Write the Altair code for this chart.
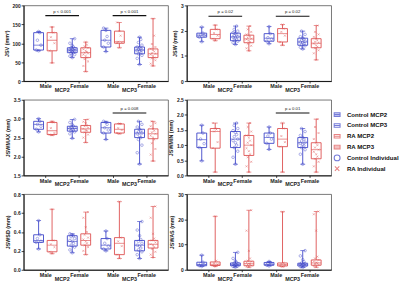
import altair as alt
import pandas as pd

BLUE = "#3d45c9"
RED = "#dd4f4f"
FONT = "Liberation Sans"

CATEGORIES = ["MCP2|Male", "MCP2|Female", "MCP3|Male", "MCP3|Female"]
JOINTS = ["MCP2", "MCP3"]
GROUPS = ["Control", "RA"]
# order of the 8 boxes in each panel: (category index, group)
BOX_ORDER = [(0, "Control"), (0, "RA"), (1, "Control"), (1, "RA"),
             (2, "Control"), (2, "RA"), (3, "Control"), (3, "RA")]

# box statistics: [min, q1, median, q3, max]
JSV_BOX = [[80, 82, 95, 128, 131], [48, 80, 108, 128, 143], [62, 75, 82, 88, 112], [25, 62, 75, 88, 103],
           [78, 90, 108, 134, 140], [88, 100, 104, 132, 155], [44, 72, 82, 90, 116], [40, 62, 72, 85, 165]]
JSV_PTS = [[80, 82, 95, 108, 128, 131], [48, 80, 100, 116, 128, 143],
           [62, 66, 70, 73, 75, 77, 79, 80, 81, 82, 83, 84, 86, 88, 90, 94, 100, 112],
           [25, 40, 52, 58, 62, 66, 70, 73, 75, 77, 80, 84, 88, 92, 96, 103],
           [78, 90, 100, 108, 118, 134, 140], [88, 100, 102, 104, 120, 132, 155],
           [44, 60, 68, 72, 75, 78, 80, 82, 84, 86, 88, 90, 95, 102, 110, 116],
           [40, 46, 55, 60, 62, 66, 70, 72, 74, 78, 82, 85, 90, 98, 120, 165]]

JSW_BOX = [[1.56, 1.74, 1.82, 1.90, 2.14], [1.60, 1.68, 1.85, 2.05, 2.22], [1.45, 1.60, 1.75, 1.90, 2.18],
           [1.20, 1.52, 1.67, 1.82, 2.18], [1.48, 1.58, 1.70, 1.88, 2.16], [1.42, 1.55, 1.88, 2.08, 2.24],
           [1.27, 1.42, 1.55, 1.70, 1.98], [0.84, 1.32, 1.50, 1.68, 2.20]]
JSW_PTS = [[1.56, 1.74, 1.80, 1.84, 1.90, 2.14], [1.60, 1.68, 1.80, 1.90, 2.05, 2.22],
           [1.45, 1.52, 1.58, 1.62, 1.66, 1.70, 1.74, 1.76, 1.80, 1.84, 1.88, 1.92, 1.98, 2.05, 2.18],
           [1.20, 1.30, 1.40, 1.48, 1.54, 1.60, 1.65, 1.68, 1.72, 1.76, 1.80, 1.85, 1.95, 2.05, 2.18],
           [1.48, 1.58, 1.66, 1.72, 1.88, 2.16], [1.42, 1.55, 1.80, 1.95, 2.08, 2.24],
           [1.27, 1.34, 1.40, 1.44, 1.48, 1.52, 1.55, 1.58, 1.62, 1.66, 1.70, 1.76, 1.85, 1.98],
           [0.84, 1.10, 1.22, 1.30, 1.36, 1.42, 1.48, 1.52, 1.56, 1.62, 1.68, 1.75, 1.85, 1.95, 2.20]]

JSWMAX_BOX = [[2.65, 2.72, 2.85, 2.93, 3.00], [2.56, 2.58, 2.68, 2.90, 2.93], [2.48, 2.67, 2.74, 2.80, 2.98],
              [2.37, 2.64, 2.73, 2.82, 2.98], [2.45, 2.62, 2.76, 2.90, 2.93], [2.60, 2.62, 2.72, 2.86, 2.87],
              [1.80, 2.50, 2.62, 2.72, 2.93], [1.88, 2.47, 2.60, 2.73, 2.93]]
JSWMAX_PTS = [[2.65, 2.72, 2.80, 2.85, 2.93, 3.00], [2.56, 2.58, 2.62, 2.75, 2.90, 2.93],
              [2.48, 2.60, 2.65, 2.68, 2.70, 2.72, 2.74, 2.76, 2.78, 2.80, 2.84, 2.90, 2.98],
              [2.37, 2.50, 2.58, 2.64, 2.68, 2.70, 2.73, 2.76, 2.80, 2.82, 2.88, 2.92, 2.98],
              [2.45, 2.62, 2.70, 2.76, 2.85, 2.90, 2.93], [2.60, 2.62, 2.70, 2.75, 2.86, 2.87],
              [1.80, 2.10, 2.30, 2.45, 2.50, 2.55, 2.60, 2.62, 2.65, 2.68, 2.72, 2.78, 2.85, 2.93],
              [1.88, 2.05, 2.20, 2.35, 2.45, 2.50, 2.55, 2.60, 2.64, 2.68, 2.73, 2.80, 2.88, 2.93]]

JSWMIN_BOX = [[0.48, 0.92, 1.18, 1.40, 1.66], [0.11, 0.90, 1.45, 1.55, 1.73], [0.37, 0.92, 1.20, 1.45, 1.73],
              [0.11, 0.66, 1.00, 1.32, 1.73], [0.86, 1.06, 1.25, 1.40, 1.60], [0.11, 0.95, 1.20, 1.55, 1.73],
              [0.37, 0.92, 1.08, 1.25, 1.55], [0.11, 0.55, 0.85, 1.08, 1.86]]
JSWMIN_PTS = [[0.48, 0.92, 1.05, 1.20, 1.40, 1.66], [0.11, 0.90, 1.10, 1.45, 1.52, 1.55, 1.73],
              [0.37, 0.60, 0.80, 0.92, 1.00, 1.08, 1.15, 1.20, 1.28, 1.35, 1.42, 1.48, 1.55, 1.65, 1.73],
              [0.11, 0.30, 0.45, 0.60, 0.70, 0.80, 0.90, 1.00, 1.08, 1.15, 1.25, 1.32, 1.45, 1.60, 1.73],
              [0.86, 1.06, 1.20, 1.30, 1.40, 1.60], [0.11, 0.95, 1.10, 1.30, 1.55, 1.73],
              [0.37, 0.70, 0.85, 0.92, 0.98, 1.02, 1.06, 1.10, 1.14, 1.20, 1.25, 1.32, 1.45, 1.55],
              [0.11, 0.30, 0.45, 0.55, 0.62, 0.70, 0.78, 0.85, 0.92, 1.00, 1.08, 1.20, 1.40, 1.60, 1.86]]

JSWSD_BOX = [[0.22, 0.29, 0.31, 0.37, 0.52], [0.17, 0.19, 0.26, 0.31, 0.64], [0.18, 0.25, 0.30, 0.36, 0.38],
             [0.16, 0.26, 0.31, 0.38, 0.61], [0.20, 0.22, 0.26, 0.33, 0.41], [0.12, 0.16, 0.28, 0.34, 0.72],
             [0.12, 0.20, 0.26, 0.31, 0.51], [0.13, 0.23, 0.27, 0.31, 0.67]]
JSWSD_PTS = [[0.22, 0.29, 0.30, 0.33, 0.37, 0.52], [0.17, 0.19, 0.24, 0.27, 0.31, 0.64],
             [0.18, 0.21, 0.24, 0.26, 0.28, 0.30, 0.31, 0.33, 0.35, 0.36, 0.37, 0.38],
             [0.16, 0.20, 0.24, 0.26, 0.28, 0.30, 0.32, 0.34, 0.37, 0.40, 0.45, 0.55, 0.61],
             [0.20, 0.22, 0.25, 0.28, 0.33, 0.41], [0.12, 0.16, 0.25, 0.30, 0.34, 0.72],
             [0.12, 0.16, 0.19, 0.21, 0.23, 0.25, 0.26, 0.28, 0.30, 0.32, 0.36, 0.42, 0.51],
             [0.13, 0.16, 0.19, 0.22, 0.24, 0.26, 0.27, 0.29, 0.31, 0.33, 0.38, 0.55, 0.67]]

JSWAS_BOX = [[1.3, 1.6, 2.1, 3.0, 5.8], [1.3, 1.7, 2.2, 3.1, 21.2], [1.0, 1.6, 2.0, 2.7, 6.9],
             [1.0, 1.6, 2.4, 3.4, 23.6], [1.5, 1.8, 2.2, 2.9, 3.3], [1.2, 1.5, 2.0, 2.7, 23.0],
             [0.9, 1.5, 2.0, 2.6, 7.6], [1.0, 1.8, 2.7, 3.9, 23.1]]
JSWAS_PTS = [[1.3, 1.6, 2.0, 2.4, 3.0, 5.8], [1.3, 1.7, 2.1, 2.6, 3.6, 21.2],
             [1.0, 1.3, 1.5, 1.7, 1.9, 2.0, 2.2, 2.4, 2.6, 2.9, 3.5, 4.5, 6.9],
             [1.0, 1.4, 1.7, 2.0, 2.3, 2.5, 2.8, 3.2, 3.6, 4.5, 7.5, 15.5, 23.6],
             [1.5, 1.8, 2.1, 2.5, 2.9, 3.3], [1.2, 1.5, 1.9, 2.3, 2.7, 23.0],
             [0.9, 1.2, 1.5, 1.7, 1.9, 2.0, 2.2, 2.4, 2.7, 3.2, 4.0, 5.5, 7.6],
             [1.0, 1.5, 1.9, 2.3, 2.6, 2.9, 3.3, 3.9, 4.5, 5.2, 15.5, 22.0, 23.1]]

# significance brackets: (first category, second category, level, label)
JSV_SIG = [(0, 1, 173, "p < 0.001"), (2, 3, 173, "p < 0.001")]
JSW_SIG = [(0, 1, 2.57, "p = 0.02"), (2, 3, 2.57, "p = 0.02")]
JSWMAX_SIG = [(2, 3, 3.15, "p = 0.008")]
JSWMIN_SIG = [(2, 3, 2.06, "p = 0.01")]

LEGEND_LABELS = ["Control MCP2", "Control MCP3", "RA MCP2", "RA MCP3", "Control Individual", "RA Individual"]

X_PATH = "M-0.75,-0.75L0.75,0.75M-0.75,0.75L0.75,-0.75"
BOX_PATH = "M-1,-0.6H1V0.6H-1ZM-1,0H1"
JIT = [0, -0.07, 0.07, -0.035, 0.035]

W, H = 147, 77


def panel(box, pts, title, domain, ticks, fmt, sigs, with_legend=False):
    brows = [dict(ci=ci, grp=g, lo=s[0], q1=s[1], med=s[2], q3=s[3], hi=s[4])
             for (ci, g), s in zip(BOX_ORDER, box)]
    bdf = pd.DataFrame(brows)
    prows = []
    for (ci, g), vals in zip(BOX_ORDER, pts):
        order = sorted(range(len(vals)), key=lambda k: vals[k])
        for r, k in enumerate(order):
            prows.append(dict(ci=ci, grp=g, v=vals[k], j=JIT[r % len(JIT)]))
    pdf = pd.DataFrame(prows)

    xcalc = "datum.ci + 0.5 + (datum.grp == 'RA' ? 0.2 : -0.2)"
    xs = alt.Scale(domain=[0, 4], nice=False, zero=False)
    ys = alt.Scale(domain=domain, nice=False, zero=False)
    xaxis = alt.Axis(values=[0.5, 1.5, 2.5, 3.5], title=None, grid=False,
                     labelExpr="datum.value % 2 < 1 ? 'Male' : 'Female'", labelOverlap=False,
                     labelFontSize=5.5, labelFontWeight="bold", labelPadding=1, tickSize=2)
    yaxis = alt.Axis(values=ticks, format=fmt, title=title, grid=False, labelOverlap=False,
                     labelFlush=False, labelBound=False)

    def X(f):
        return alt.X(f, type="quantitative", scale=xs, axis=xaxis)

    def Y(f):
        return alt.Y(f, type="quantitative", scale=ys, axis=yaxis)

    col = alt.Color("grp:N", scale=alt.Scale(domain=GROUPS, range=[BLUE, RED]), legend=None)
    strk = alt.Stroke("grp:N", scale=alt.Scale(domain=GROUPS, range=[BLUE, RED]), legend=None)

    bb = alt.Chart(bdf).transform_calculate(xp=xcalc)
    whisk = bb.mark_rule(strokeWidth=0.9).encode(x=X("xp"), y=Y("lo"), y2="hi:Q", color=col)
    rect = bb.mark_bar(size=10, fill="white", strokeWidth=0.9).encode(
        x=X("xp"), y=Y("q1"), y2="q3:Q", stroke=strk)
    cap_lo = bb.mark_tick(orient="horizontal", size=5, thickness=0.9).encode(
        x=X("xp"), y=Y("lo"), color=col)
    cap_hi = bb.mark_tick(orient="horizontal", size=5, thickness=0.9).encode(
        x=X("xp"), y=Y("hi"), color=col)
    med = bb.mark_tick(orient="horizontal", size=10, thickness=0.9).encode(
        x=X("xp"), y=Y("med"), color=col)

    pb = alt.Chart(pdf).transform_calculate(xp=xcalc + " + datum.j")
    ctrl = pb.transform_filter("datum.grp == 'Control'").mark_point(
        shape="circle", filled=False, size=7, strokeWidth=0.6, color=BLUE).encode(x=X("xp"), y=Y("v"))
    ra = pb.transform_filter("datum.grp == 'RA'").mark_point(
        shape=X_PATH, filled=False, size=7, strokeWidth=0.6, color=RED).encode(x=X("xp"), y=Y("v"))

    layers = [whisk, rect, cap_lo, cap_hi, med, ctrl, ra]

    if sigs:
        sdf = pd.DataFrame([dict(a=a, b=b, lev=lev, lab=lab) for a, b, lev, lab in sigs])
        sb = alt.Chart(sdf).transform_calculate(x1="datum.a + 0.5", x2="datum.b + 0.5",
                                                xm="(datum.a + datum.b) / 2 + 0.5")
        layers.append(sb.mark_rule(color="#111", strokeWidth=1.1).encode(
            x=X("x1"), x2="x2:Q", y=Y("lev")))
        layers.append(sb.mark_text(fontSize=4.3, font=FONT, dy=-4, color="#222").encode(
            x=X("xm"), y=Y("lev"), text="lab:N"))

    gdf = pd.DataFrame(dict(joint=JOINTS, first=[0, 2]))
    layers.append(alt.Chart(gdf).transform_calculate(xm="datum.first + 1").mark_text(
        fontSize=5.5, font=FONT, fontWeight="bold", baseline="top", color="#222").encode(
        x=X("xm"), y=alt.value(H + 7), text="joint:N"))

    if with_legend:
        ldf = pd.DataFrame(dict(leg=LEGEND_LABELS))
        lg = alt.Legend(title=None, orient="none", legendX=149, legendY=11,
                        labelFontSize=6.2, labelFont=FONT, labelFontWeight="bold", labelColor="#111",
                        symbolSize=36, symbolStrokeWidth=1.1, rowPadding=2, clipHeight=8.3,
                        labelOffset=6, labelLimit=200)
        layers.append(alt.Chart(ldf).mark_point(filled=False, clip=True).encode(
            x=alt.value(-200), y=alt.value(-200),
            color=alt.Color("leg:N", scale=alt.Scale(domain=LEGEND_LABELS,
                                                     range=[BLUE, BLUE, RED, RED, BLUE, RED]), legend=lg),
            shape=alt.Shape("leg:N", scale=alt.Scale(domain=LEGEND_LABELS,
                                                     range=[BOX_PATH] * 4 + ["circle", X_PATH]), legend=lg)))

    ch = alt.layer(*layers).properties(width=W, height=H)
    if with_legend:
        ch = ch.resolve_scale(color="independent", shape="independent", stroke="independent")
    return ch


p1 = panel(JSV_BOX, JSV_PTS, "JSV (mm³)", [0, 200], [0, 50, 100, 150, 200], "d", JSV_SIG)
p2 = panel(JSW_BOX, JSW_PTS, "JSW (mm)", [0, 3], [0, 1, 2, 3], "d", JSW_SIG)
p3 = panel(JSWMAX_BOX, JSWMAX_PTS, "JSWMAX (mm)", [1.5, 3.5], [1.5, 2.0, 2.5, 3.0, 3.5], ".1f", JSWMAX_SIG)
p4 = panel(JSWMIN_BOX, JSWMIN_PTS, "JSWMIN (mm)", [0, 2.5], [0, 0.5, 1.0, 1.5, 2.0, 2.5], ".1f",
           JSWMIN_SIG, with_legend=True)
p5 = panel(JSWSD_BOX, JSWSD_PTS, "JSWSD (mm)", [0, 0.8], [0, 0.2, 0.4, 0.6, 0.8], ".1f", [])
p6 = panel(JSWAS_BOX, JSWAS_PTS, "JSWAS (mm)", [0, 30], [0, 10, 20, 30], "d", [])

chart = alt.concat(p1, p2, p3, p4, p5, p6, columns=2,
                   spacing={"row": 19, "column": 19}, bounds="flush").properties(
    padding={"left": 3, "top": 0, "right": 0, "bottom": 0}
).configure_view(stroke="#555", strokeWidth=0.8).configure_axis(
    domainColor="#111", domainWidth=1, tickColor="#111", tickWidth=0.8, tickSize=2.5,
    labelFont=FONT, labelFontSize=5, labelColor="#222", labelPadding=1, labelOverlap=False,
    titleFont=FONT, titleFontSize=5.5, titleFontWeight="bold", titleColor="#222", titlePadding=3
).configure_axisY(labelFontWeight="bold")

chart.save("out.html", embed_options={"renderer": "svg", "actions": False})
